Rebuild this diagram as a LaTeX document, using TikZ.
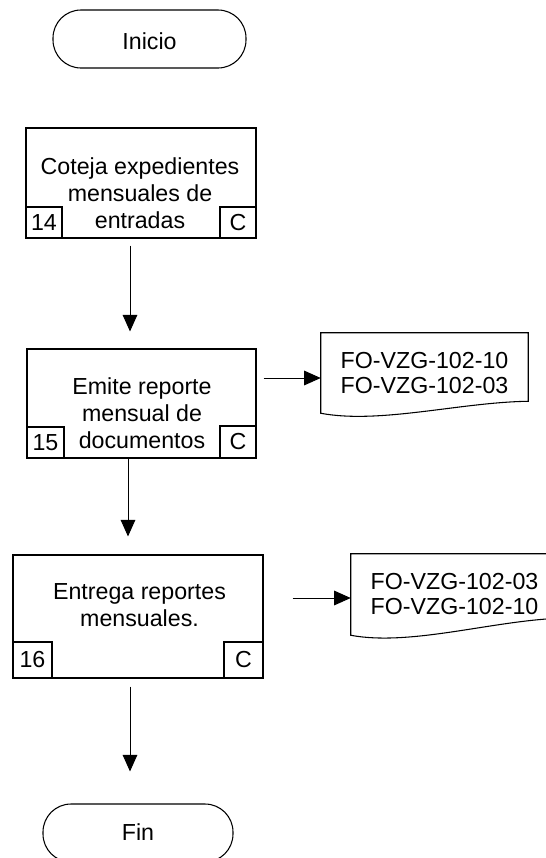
\documentclass[tikz,border=0pt]{standalone}
\usepackage{fontspec}
\setmainfont{Liberation Sans}
\usetikzlibrary{calc,arrows.meta}
\begin{document}
\begin{tikzpicture}[x=0.75pt,y=-0.75pt,
  every node/.style={font=\fontsize{17.4pt}{20.25pt}\selectfont},
  term/.style={draw,line width=0.8pt,rounded corners=21pt,inner sep=0pt},
  proc/.style={draw,line width=0.8pt,inner sep=0pt},
  txt/.style={align=center,inner sep=0pt},
  tag/.style={draw,line width=0.8pt,inner sep=0pt,minimum width=27pt,minimum height=23.25pt},
  bigtag/.style={tag,minimum width=29.25pt,minimum height=27pt},
  docnode/.style={inner sep=0pt,align=left,font=\fontsize{17.4pt}{18.75pt}\selectfont},
  docline/.style={line width=0.8pt},
  arr/.style={line width=0.75pt,-{Triangle[length=12.5pt,width=11pt]}}
]
\useasboundingbox (0,0) rectangle (546,858);
\clip (0,0) rectangle (546,858);

% terminals
\node[term,minimum width=144.75pt,minimum height=43.5pt] (ini) at (149.5,39) {};
\node[txt] (tini) at (149.5,41) {Inicio};
\node[term,minimum width=142.5pt,minimum height=43.5pt] (fin) at (138,833) {};
\node[txt] (tfin) at (138,832) {Fin};

% process 14
\node[proc,minimum width=172.5pt,minimum height=82.5pt] (b14) at (141,183) {};
\node[txt] (t14) at (140,193) {Coteja expedientes\\mensuales de\\entradas};
\node[tag,anchor=south west] (n14) at (b14.south west) {14};
\node[tag,anchor=south east] (c14) at (b14.south east) {C};

% process 15
\node[proc,minimum width=171.75pt,minimum height=81.75pt] (b15) at (141.5,403.5) {};
\node[txt] (t15) at (142,413) {Emite reporte\\mensual de\\documentos};
\node[tag,anchor=south west,minimum width=27.75pt] (n15) at (b15.south west) {15};
\node[tag,anchor=south east,minimum height=24pt] (c15) at (b15.south east) {C};

% process 16
\node[proc,minimum width=187.5pt,minimum height=92.25pt] (b16) at (138,616.5) {};
\node[txt] (t16) at (139.5,605) {Entrega reportes\\mensuales.};
\node[bigtag,anchor=south west] (n16) at (b16.south west) {16};
\node[bigtag,anchor=south east] (c16) at (b16.south east) {C};

% documents
\node[docnode,minimum width=155.25pt,minimum height=60pt] (d1) at (424.5,373) {FO-VZG-102-10\\FO-VZG-102-03};
\draw[docline] (d1.north west) -- (d1.north east) -- ($(d1.south east)+(0,-12)$)
  .. controls ($(d1.south)+(35.5,-11)$) and ($(d1.south)+(-44.5,11)$) .. (d1.south west) -- cycle;

\node[docnode,minimum width=155.25pt,minimum height=60.75pt] (d2) at (454.5,594.5) {FO-VZG-102-03\\FO-VZG-102-10};
\draw[docline] (d2.north west) -- (d2.north east) -- ($(d2.south east)+(0,-17)$)
  .. controls ($(d2.south)+(35.5,-14)$) and ($(d2.south)+(-44.5,11)$) .. (d2.south west) -- cycle;

% connectors
\draw[arr,shorten <=5.25pt,shorten >=12.75pt] ($(b14.south)+(-11,0)$) -- ($(b15.north)+(-11.5,0)$);
\draw[arr,shorten >=13.5pt] ($(b15.south)+(-13.5,0)$) -- ($(b16.north)+(-10,0)$);
\draw[arr,shorten <=6pt,shorten >=24pt] ($(b16.south)+(-8,0)$) -- ($(fin.north)+(-8,0)$);
\draw[arr,shorten <=5.25pt] ($(b15.east)+(0,-25.5)$) -- ($(d1.west)+(0,5)$);
\draw[arr,shorten <=21.75pt] ($(b16.east)+(0,-18.5)$) -- ($(d2.west)+(0,3.5)$);
\end{tikzpicture}
\end{document}
